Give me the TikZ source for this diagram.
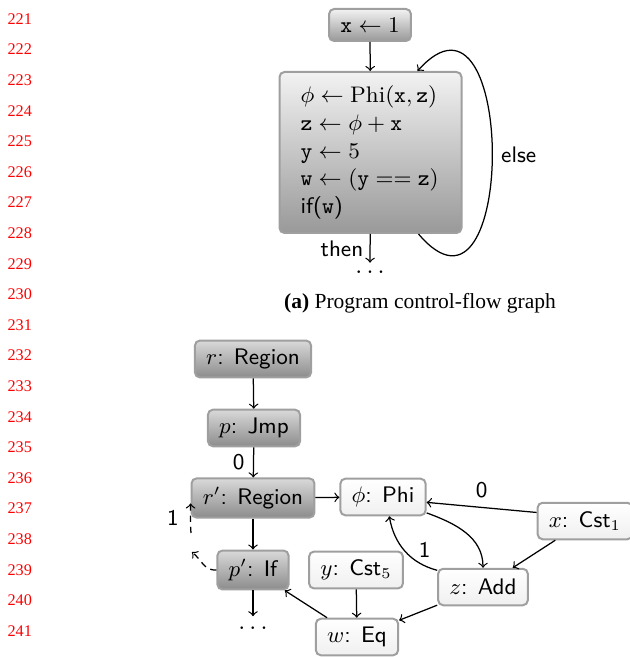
\documentclass[tikz,border=0pt]{standalone}
\usepackage{fontspec}
\newfontfamily\capfont{Liberation Serif}

\begin{document}
\begin{tikzpicture}
[x=0.4pt,y=-0.4pt,
 shadednode/.style={draw=gray!75,line width=0.8pt,rounded corners=2pt,
   top color=gray!30,bottom color=gray!90,inner xsep=4.5pt,
   minimum height=14.6pt,font=\fontsize{9}{11}\sffamily},
 plainnode/.style={shadednode,top color=white,bottom color=gray!12},
 cfgnode/.style={shadednode,top color=gray!10,bottom color=gray!80},
 linedecorate/.style={->,line width=0.5pt},
 dashdecorate/.style={linedecorate,dash pattern=on 2.5pt off 2pt},
 lbl/.style={font=\fontsize{9}{11}\sffamily},
 lineno/.style={anchor=west,inner sep=0pt,text=red,
   font=\capfont\fontsize{6.5}{7}\selectfont}]
\useasboundingbox (0,0) rectangle (629,657);
%% line numbers
\foreach \n in {221,...,241} {
  \node[lineno] (ln\n) at (7,{19+(\n-221)*30.6}) {\n};
}
%% (a) control-flow graph
\node[cfgnode,minimum height=12.8pt] (xinit) at (370,25) {$\mathtt{x} \leftarrow 1$};
\node[cfgnode,align=left,text width=56pt,inner xsep=8.4pt,minimum height=64.4pt,
  font=\fontsize{9}{11.1}\selectfont] (cfg) at (370.5,152.5)
  {$\phi \leftarrow \mathrm{Phi}(\mathtt{x},\mathtt{z})$\\
   $\mathtt{z} \leftarrow \phi + \mathtt{x}$\\
   $\mathtt{y} \leftarrow 5$\\
   $\mathtt{w} \leftarrow (\mathtt{y} == \mathtt{z})$\\
   \textsf{if(}$\mathtt{w}$\textsf{)}};
\node (dots1) at (370,272) [inner sep=0pt] {$\dots$};
\node[font=\capfont\fontsize{8.6}{11}\selectfont] (capa) at (420,303)
  {\textbf{(a)} Program control-flow graph};
\path
  (xinit) edge[linedecorate] (cfg)
  (cfg) edge[linedecorate,shorten >=3pt] node[lbl,left=2pt,pos=.42,inner sep=0.5pt] {then} (dots1);
\draw[linedecorate] ([xshift=-17.6pt]cfg.south east)
  .. controls (517,350) and (517,-40) .. node[lbl,right,pos=.5] {else}
  ([xshift=-18pt]cfg.north east);
%% nodes or vertices
\foreach \nodename/\x/\y/\txt in {r/253/359/{$r$: Region}, p/254/428/{$p$: Jmp},
    rr/253/498/{$r'$: Region}, pp/253/570/{$p'$: If}} {
  \node[shadednode] (\nodename) at (\x,\y) {\txt};
}
\foreach \nodename/\x/\y/\txt in {phi/383/497/{$\phi$: Phi},
    cstone/585/521/{$x$: Cst$_1$}, cstfive/356/570/{$y$: Cst$_5$},
    add/483/587/{$z$: Add}, eq/357/637/{$w$: Eq}} {
  \node[plainnode] (\nodename) at (\x,\y) {\txt};
}
\node (dots2) at (253,628) [inner sep=0pt] {$\dots$};
%% edges or lines
\path
  (r) edge[linedecorate] (p)
  (p) edge[linedecorate] node[lbl,left] {0} (rr)
  (rr) edge[linedecorate] (phi)
  (rr) edge[linedecorate] (pp)
  (pp) edge[linedecorate,shorten >=4pt] (dots2)
  (cstone.170) edge[linedecorate] node[lbl,above] {0} (phi.-7)
  (cstone) edge[linedecorate] (add)
  (phi.-20) edge[linedecorate,out=-20,in=90] (add.north)
  (add.160) edge[linedecorate,out=165,in=-80]
    node[lbl,pos=.3,above right,inner sep=1pt] {1} (phi.-72)
  (cstfive) edge[linedecorate] (eq)
  (add) edge[linedecorate] (eq)
  (eq) edge[linedecorate] (pp);
%% back edge of the loop
\coordinate (dtipone) at (192,552);
\coordinate (dtailtwo) at (191,533);
\draw[dashdecorate] (pp.west) to[out=185,in=-40] (dtipone);
\draw[dashdecorate] (dtailtwo) to[out=95,in=-90] (rr.185);
\node[lbl] (onelbl) at (173,518) {1};
\end{tikzpicture}
\end{document}
